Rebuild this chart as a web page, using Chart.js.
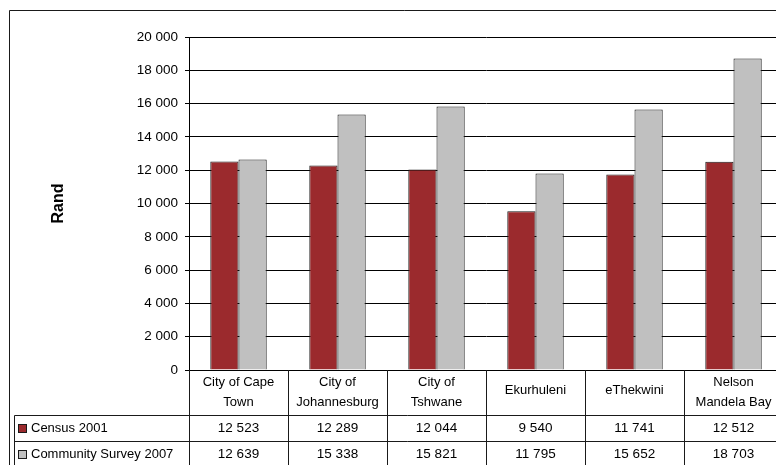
<!DOCTYPE html>
<html>
<head>
<meta charset="utf-8">
<title>Average monthly income by metro</title>
<script src="https://cdn.jsdelivr.net/npm/chart.js@4.4.1/dist/chart.umd.min.js"></script>
<style>
  html, body { margin: 0; padding: 0; background: #fff; overflow: hidden; }
  #wrap { width: 776px; height: 465px; overflow: hidden; position: relative; }
  canvas { display: block; }
</style>
</head>
<body>
<div id="wrap"><canvas id="chart" width="800" height="480"></canvas></div>
<script>
// Metros (multi-line header labels for the data table)
const categories = [
  ['City of Cape', 'Town'],
  ['City of', 'Johannesburg'],
  ['City of', 'Tshwane'],
  ['Ekurhuleni'],
  ['eThekwini'],
  ['Nelson', 'Mandela Bay']
];
const seriesNames = ['Census 2001', 'Community Survey 2007'];
const census2001 = [12523, 12289, 12044, 9540, 11741, 12512];
const survey2007 = [12639, 15338, 15821, 11795, 15652, 18703];
const yTicks = [0, 2000, 4000, 6000, 8000, 10000, 12000, 14000, 16000, 18000, 20000];

const RED = '#9b2a2d';
const GREY = '#c0c0c0';
const EDGE = '#1a1a1a';
const FONT = '"Liberation Sans", Arial, sans-serif';

function fmt(v) {
  return String(v).replace(/\B(?=(\d{3})+(?!\d))/g, ' ');
}

// White background plus the outer frame
const backdrop = {
  id: 'backdrop',
  beforeDraw(chart) {
    const c = chart.ctx;
    c.save();
    c.fillStyle = '#fff';
    c.fillRect(0, 0, chart.width, chart.height);
    c.restore();
  },
  afterDraw(chart) {
    const c = chart.ctx;
    c.save();
    c.strokeStyle = EDGE;
    c.lineWidth = 1;
    c.beginPath();
    c.moveTo(9.5, chart.height);
    c.lineTo(9.5, 10.5);
    c.lineTo(chart.width, 10.5);
    c.stroke();
    c.restore();
  }
};

// Data table under the plot: category headers, legend keys and values
const dataTable = {
  id: 'dataTable',
  afterDraw(chart) {
    const c = chart.ctx;
    const x = chart.scales.x;
    const area = chart.chartArea;
    const n = categories.length;
    const colW = (area.right - area.left) / n;
    const headTop = area.bottom;
    const row1 = 415.5, row2 = 441.5, rowH = 26;
    const series = [census2001, survey2007];
    const colors = [RED, GREY];

    c.save();
    c.strokeStyle = EDGE;
    c.lineWidth = 1;
    c.beginPath();
    // column separators
    for (let i = 0; i <= n; i++) {
      const px = Math.round(area.left + i * colW) + 0.5;
      c.moveTo(px, headTop);
      c.lineTo(px, chart.height);
    }
    // row separators and the legend column edge
    c.moveTo(14.5, row1); c.lineTo(chart.width, row1);
    c.moveTo(14.5, row2); c.lineTo(chart.width, row2);
    c.moveTo(14.5, row1); c.lineTo(14.5, chart.height);
    c.stroke();

    c.fillStyle = '#000';
    c.font = '13px ' + FONT;
    c.textAlign = 'center';
    c.textBaseline = 'middle';
    // header labels
    categories.forEach((lines, i) => {
      const cx = x.getPixelForValue(i);
      if (lines.length === 1) {
        c.fillText(lines[0], cx, 390);
      } else {
        c.fillText(lines[0], cx, 382);
        c.fillText(lines[1], cx, 402);
      }
    });
    // value rows
    series.forEach((vals, r) => {
      const cy = row1 + rowH / 2 + r * rowH;
      c.font = '13.5px ' + FONT;
      c.textAlign = 'center';
      vals.forEach((v, i) => {
        c.fillText(fmt(v), x.getPixelForValue(i), cy);
      });
      // legend key + series name
      c.fillStyle = colors[r];
      c.fillRect(18.5, cy - 4, 8, 8);
      c.strokeRect(18.5, cy - 4, 8, 8);
      c.fillStyle = '#000';
      c.font = '13px ' + FONT;
      c.textAlign = 'left';
      c.fillText(seriesNames[r], 31, cy);
    });
    c.restore();
  }
};

new Chart(document.getElementById('chart'), {
  type: 'bar',
  data: {
    labels: categories,
    datasets: [
      { label: seriesNames[0], data: census2001, backgroundColor: RED, borderColor: EDGE, borderWidth: 1 },
      { label: seriesNames[1], data: survey2007, backgroundColor: GREY, borderColor: EDGE, borderWidth: 1 }
    ]
  },
  options: {
    responsive: false,
    devicePixelRatio: 1,
    animation: false,
    layout: { padding: { left: 0, top: 37, right: 17, bottom: 110 } },
    datasets: { bar: { categoryPercentage: 0.57, barPercentage: 1.0 } },
    plugins: { legend: { display: false }, tooltip: { enabled: false } },
    scales: {
      x: { display: false },
      y: {
        min: 0,
        max: 20000,
        afterBuildTicks(scale) { scale.ticks = yTicks.map(v => ({ value: v })); },
        afterFit(scale) { scale.width = 189; },
        ticks: {
          color: '#000',
          font: { family: FONT, size: 13.5 },
          padding: 7,
          callback: v => fmt(v)
        },
        grid: { color: '#000', lineWidth: 1, tickLength: 4, tickColor: '#000' },
        border: { color: '#000', width: 1 },
        title: {
          display: true,
          text: 'Rand',
          color: '#000',
          font: { family: FONT, size: 16, weight: 'bold' },
          padding: { top: 49, bottom: 0 }
        }
      }
    }
  },
  plugins: [backdrop, dataTable]
});
</script>
</body>
</html>
